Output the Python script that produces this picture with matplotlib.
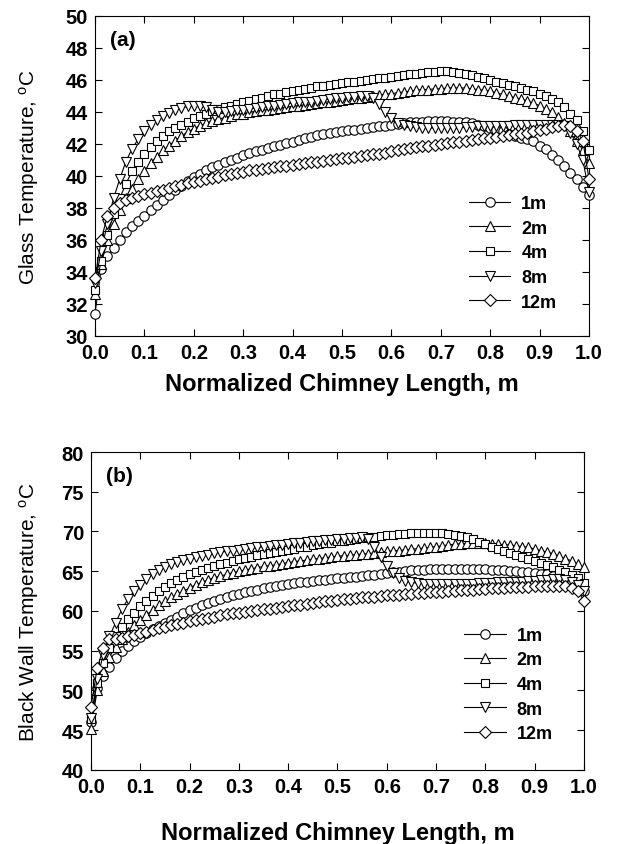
#!/usr/bin/env python3
"""Glass / black wall temperature along a normalized solar chimney, for five chimney heights."""

import matplotlib
matplotlib.use("Agg")
import matplotlib.pyplot as plt
import numpy as np

plt.rcParams["font.family"] = ["Liberation Sans", "DejaVu Sans"]
plt.rcParams["mathtext.default"] = "regular"

# ---------------------------------------------------------------------------
# Data (81 stations along the chimney)
# ---------------------------------------------------------------------------

x_norm = np.linspace(0.0, 1.0, 81)
heights = ["1m", "2m", "4m", "8m", "12m"]

glass_1m = [31.4, 34.2, 35.0, 35.5, 36.0, 36.5, 36.9, 37.2, 37.5,
            37.9, 38.2, 38.5, 38.8, 39.1, 39.4, 39.7, 39.95,
            40.15, 40.35, 40.55, 40.7, 40.85, 41.0, 41.15, 41.3,
            41.45, 41.55, 41.65, 41.75, 41.85, 41.95, 42.05, 42.15,
            42.25, 42.35, 42.45, 42.55, 42.6, 42.7, 42.75, 42.8,
            42.85, 42.9, 42.95, 43.0, 43.05, 43.1, 43.15, 43.2,
            43.25, 43.3, 43.35, 43.4, 43.4, 43.45, 43.45, 43.45,
            43.45, 43.4, 43.4, 43.35, 43.3, 43.2, 43.1, 43.0,
            42.9, 42.8, 42.65, 42.5, 42.4, 42.3, 42.2, 41.9,
            41.7, 41.3, 41.0, 40.6, 40.2, 39.8, 39.3, 38.8]
glass_2m = [32.6, 34.5, 36.0, 37.0, 37.9, 38.6, 39.2, 39.8, 40.3,
            40.8, 41.2, 41.6, 41.9, 42.2, 42.5, 42.75, 42.95,
            43.15, 43.3, 43.45, 43.55, 43.65, 43.75, 43.85, 43.9,
            43.97, 44.05, 44.1, 44.15, 44.2, 44.25, 44.3, 44.35,
            44.4, 44.45, 44.5, 44.55, 44.6, 44.65, 44.7, 44.75,
            44.8, 44.85, 44.9, 44.95, 45.0, 45.05, 45.1, 45.15,
            45.2, 45.25, 45.3, 45.35, 45.4, 45.4, 45.45, 45.45,
            45.5, 45.5, 45.5, 45.5, 45.45, 45.4, 45.35, 45.3,
            45.2, 45.1, 45.0, 44.9, 44.8, 44.7, 44.55, 44.4,
            44.2, 44.0, 43.7, 43.3, 42.8, 42.2, 41.6, 40.8]
glass_4m = [32.9, 34.7, 36.3, 37.6, 38.6, 39.5, 40.3, 40.9, 41.4,
            41.8, 42.2, 42.5, 42.8, 43.0, 43.2, 43.4, 43.6,
            43.75, 43.9, 44.05, 44.2, 44.3, 44.4, 44.5, 44.6,
            44.7, 44.8, 44.9, 45.0, 45.1, 45.15, 45.25, 45.3,
            45.4, 45.45, 45.5, 45.6, 45.65, 45.7, 45.75, 45.8,
            45.85, 45.9, 45.95, 46.0, 46.05, 46.1, 46.15, 46.2,
            46.25, 46.3, 46.35, 46.4, 46.45, 46.5, 46.5, 46.55,
            46.55, 46.5, 46.45, 46.4, 46.3, 46.2, 46.1, 46.0,
            45.9, 45.8, 45.7, 45.6, 45.5, 45.4, 45.3, 45.15,
            45.0, 44.8, 44.6, 44.3, 43.9, 43.5, 42.8, 41.6]
glass_8m = [33.3, 35.3, 37.0, 38.6, 39.8, 40.9, 41.7, 42.3, 42.8,
            43.2, 43.5, 43.75, 43.95, 44.1, 44.25, 44.35, 44.4,
            44.4, 44.3, 44.1, 44.0, 44.0, 44.05, 44.1, 44.15,
            44.2, 44.25, 44.3, 44.35, 44.4, 44.45, 44.5, 44.55,
            44.6, 44.62, 44.65, 44.7, 44.75, 44.8, 44.85, 44.9,
            44.92, 44.95, 44.97, 45.0, 44.9, 44.5, 44.0, 43.6,
            43.3, 43.2, 43.1, 43.05, 43.0, 43.0, 43.0, 43.0,
            43.0, 43.0, 43.0, 43.05, 43.05, 43.1, 43.1, 43.1,
            43.1, 43.15, 43.15, 43.2, 43.2, 43.2, 43.2, 43.2,
            43.2, 43.2, 43.2, 43.1, 42.7, 42.0, 41.0, 39.0]
glass_12m = [33.6, 36.0, 37.5, 38.0, 38.3, 38.5, 38.6, 38.75, 38.85,
             38.95, 39.05, 39.15, 39.25, 39.35, 39.45, 39.55, 39.6,
             39.7, 39.8, 39.85, 39.95, 40.05, 40.1, 40.2, 40.25,
             40.35, 40.4, 40.45, 40.5, 40.55, 40.6, 40.65, 40.7,
             40.75, 40.8, 40.85, 40.9, 40.95, 41.0, 41.05, 41.1,
             41.15, 41.2, 41.25, 41.3, 41.35, 41.4, 41.45, 41.55,
             41.6, 41.7, 41.75, 41.8, 41.85, 41.9, 41.95, 42.0,
             42.05, 42.1, 42.15, 42.2, 42.25, 42.3, 42.35, 42.4,
             42.45, 42.5, 42.55, 42.6, 42.65, 42.7, 42.8, 42.85,
             42.95, 43.05, 43.15, 43.2, 43.1, 42.8, 42.2, 39.8]

wall_1m = [46.0, 50.3, 51.8, 53.0, 54.1, 55.0, 55.6, 56.2, 56.7,
           57.2, 57.7, 58.1, 58.5, 58.9, 59.3, 59.7, 60.1,
           60.4, 60.7, 61.0, 61.25, 61.5, 61.75, 62.0, 62.2,
           62.4, 62.55, 62.7, 62.85, 63.0, 63.15, 63.3, 63.4,
           63.5, 63.6, 63.7, 63.8, 63.85, 63.9, 64.0, 64.1,
           64.2, 64.25, 64.3, 64.4, 64.5, 64.55, 64.65, 64.75,
           64.85, 64.95, 65.05, 65.1, 65.15, 65.2, 65.25, 65.3,
           65.3, 65.3, 65.3, 65.3, 65.3, 65.3, 65.3, 65.25,
           65.2, 65.15, 65.1, 65.05, 65.0, 64.95, 64.9, 64.8,
           64.7, 64.6, 64.45, 64.25, 64.0, 63.7, 63.2, 62.5]
wall_2m = [45.2, 50.0, 52.5, 54.2, 55.5, 56.5, 57.4, 58.2, 58.9,
           59.5, 60.1, 60.7, 61.2, 61.7, 62.1, 62.5, 62.9,
           63.3, 63.6, 63.9, 64.2, 64.4, 64.6, 64.8, 65.0,
           65.15, 65.3, 65.45, 65.6, 65.7, 65.8, 65.95, 66.1,
           66.2, 66.3, 66.4, 66.5, 66.6, 66.7, 66.8, 66.9,
           66.95, 67.0, 67.1, 67.15, 67.2, 67.3, 67.4, 67.5,
           67.55, 67.6, 67.7, 67.75, 67.85, 67.9, 68.0, 68.1,
           68.2, 68.3, 68.4, 68.45, 68.5, 68.55, 68.55, 68.5,
           68.45, 68.4, 68.35, 68.3, 68.2, 68.1, 68.0, 67.8,
           67.6, 67.4, 67.2, 66.9, 66.6, 66.3, 65.9, 65.5]
wall_4m = [46.4, 51.0, 53.5, 55.3, 56.8, 58.0, 59.0, 59.8, 60.6,
           61.3, 61.9, 62.5, 63.0, 63.5, 63.9, 64.3, 64.6,
           64.9, 65.2, 65.45, 65.7, 65.9, 66.1, 66.3, 66.5,
           66.7, 66.85, 67.0, 67.15, 67.3, 67.45, 67.6, 67.7,
           67.85, 68.0, 68.1, 68.25, 68.4, 68.5, 68.6, 68.75,
           68.85, 68.95, 69.05, 69.15, 69.25, 69.35, 69.45, 69.55,
           69.6, 69.65, 69.7, 69.75, 69.8, 69.8, 69.8, 69.8,
           69.75, 69.7, 69.6, 69.45, 69.25, 69.0, 68.7, 68.4,
           68.1, 67.8, 67.5, 67.3, 67.0, 66.8, 66.5, 66.3,
           66.0, 65.8, 65.5, 65.2, 64.9, 64.5, 64.1, 63.5]
wall_8m = [46.5, 51.5, 54.5, 56.8, 58.5, 60.2, 61.5, 62.5, 63.3,
           64.0, 64.6, 65.1, 65.5, 65.85, 66.15, 66.4, 66.6,
           66.8, 66.95, 67.1, 67.25, 67.4, 67.5, 67.6, 67.7,
           67.8, 67.9, 68.0, 68.1, 68.2, 68.3, 68.35, 68.45,
           68.5, 68.6, 68.65, 68.75, 68.8, 68.9, 68.95, 69.0,
           69.1, 69.15, 69.2, 69.25, 69.0, 68.0, 66.8, 65.7,
           64.8, 64.2, 63.8, 63.6, 63.5, 63.45, 63.4, 63.4,
           63.4, 63.4, 63.4, 63.4, 63.45, 63.45, 63.5, 63.5,
           63.55, 63.6, 63.6, 63.65, 63.7, 63.7, 63.75, 63.8,
           63.85, 63.9, 64.0, 64.0, 63.9, 63.7, 63.3, 62.5]
wall_12m = [47.9, 52.8, 55.3, 56.5, 56.5, 56.6, 56.8, 57.0, 57.2,
            57.4, 57.6, 57.8, 58.0, 58.2, 58.4, 58.55, 58.7,
            58.85, 59.0, 59.15, 59.3, 59.45, 59.6, 59.7, 59.8,
            59.9, 60.0, 60.1, 60.2, 60.3, 60.4, 60.5, 60.6,
            60.7, 60.8, 60.9, 61.0, 61.1, 61.2, 61.3, 61.4,
            61.5, 61.55, 61.6, 61.7, 61.75, 61.8, 61.9, 61.95,
            62.0, 62.05, 62.1, 62.2, 62.25, 62.3, 62.35, 62.4,
            62.45, 62.5, 62.55, 62.6, 62.65, 62.7, 62.75, 62.8,
            62.85, 62.9, 62.95, 63.0, 63.0, 63.05, 63.05, 63.1,
            63.1, 63.15, 63.2, 63.2, 63.1, 62.9, 62.5, 61.3]

MARKERS = ["o", "^", "s", "v", "D"]
MSIZE = {"o": 6.8, "^": 7.2, "s": 6.4, "v": 7.2, "D": 5.8}


# ---------------------------------------------------------------------------
# Plotting
# ---------------------------------------------------------------------------

def draw_panel(ax, series, ylim, yticks, ylabel, tag, leg_anchor, xlab_y, ylab_x):
    """One temperature panel with open black markers."""
    for name, vals, mk in zip(heights, series, MARKERS):
        ax.plot(x_norm, vals, color="black", lw=0.8, marker=mk,
                markersize=MSIZE[mk], markerfacecolor="white",
                markeredgecolor="black", markeredgewidth=0.8,
                label=name, clip_on=False, zorder=3)

    ax.set_xlim(0.0, 1.0)
    ax.set_ylim(*ylim)
    ax.set_xticks(np.arange(0.0, 1.01, 0.1))
    ax.set_yticks(yticks)
    ax.xaxis.set_major_formatter(plt.FormatStrFormatter("%.1f"))
    ax.tick_params(direction="in", top=True, right=True, length=5, width=0.8,
                   labelsize=14.5, pad=5)
    for lbl in ax.get_xticklabels() + ax.get_yticklabels():
        lbl.set_fontweight("bold")
    for sp in ax.spines.values():
        sp.set_linewidth(0.8)

    ax.set_xlabel("Normalized Chimney Length, m", fontsize=17, fontweight="bold")
    ax.set_ylabel(ylabel, fontsize=15)
    ax.xaxis.set_label_coords(0.5, xlab_y)
    ax.yaxis.set_label_coords(ylab_x, 0.5)

    ax.text(0.03, 0.925, tag, transform=ax.transAxes, fontsize=15,
            fontweight="bold", va="center", ha="left")

    leg = ax.legend(loc="upper left", bbox_to_anchor=leg_anchor, frameon=False,
                    fontsize=13, handlelength=2.3, handletextpad=0.6,
                    labelspacing=0.42, borderpad=0, borderaxespad=0)
    for t in leg.get_texts():
        t.set_fontweight("bold")


def main():
    fig = plt.figure(figsize=(6.18, 8.45), dpi=100)
    ax_a = fig.add_axes([0.1537, 0.6012, 0.7994, 0.3787])
    ax_b = fig.add_axes([0.1472, 0.0876, 0.7977, 0.3763])

    draw_panel(ax_a, [glass_1m, glass_2m, glass_4m, glass_8m, glass_12m],
               (30, 50), np.arange(30, 51, 2),
               "Glass Temperature, $^{o}$C", "(a)",
               (0.757, 0.44), -0.113, -0.109)
    draw_panel(ax_b, [wall_1m, wall_2m, wall_4m, wall_8m, wall_12m],
               (40, 80), np.arange(40, 81, 5),
               "Black Wall Temperature, $^{o}$C", "(b)",
               (0.757, 0.45), -0.161, -0.102)

    fig.savefig("out.png", dpi=100, facecolor="white")
    plt.close("all")


if __name__ == "__main__":
    main()
